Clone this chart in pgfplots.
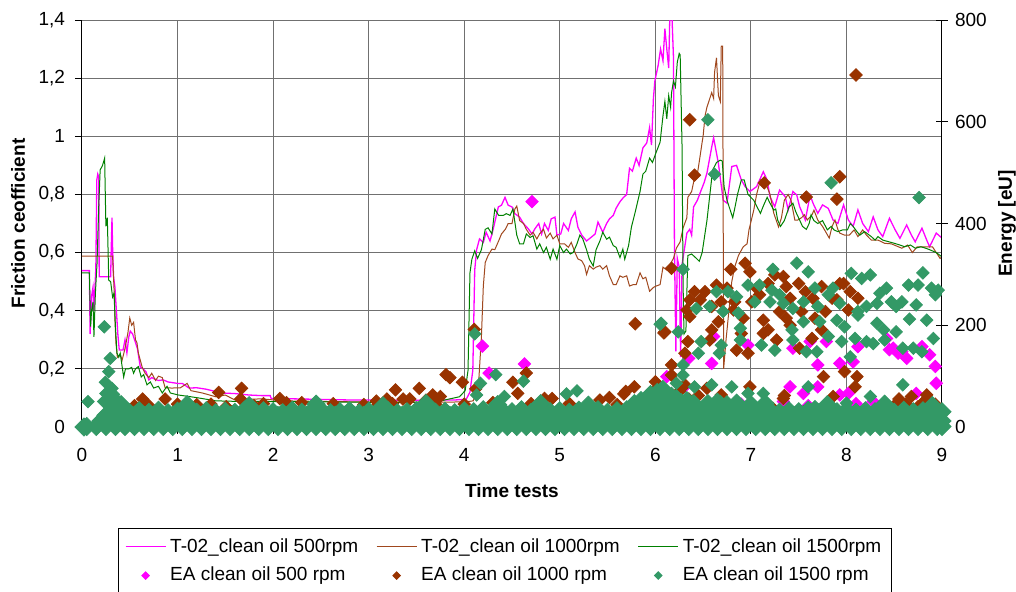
\documentclass[border=0pt]{standalone}
\usepackage{fontspec}
\setmainfont{Liberation Sans}
\usepackage{pgfplots}
\pgfplotsset{compat=1.18}
\definecolor{cmag}{HTML}{FF00FF}
\definecolor{cbrl}{HTML}{A0481E}
\definecolor{cbr}{HTML}{993300}
\definecolor{cgl}{HTML}{008000}
\definecolor{cgm}{HTML}{339966}
\definecolor{cgrid}{HTML}{707070}
\newcommand{\fs}{\fontsize{9.5}{11.4}\selectfont}
\begin{document}
\begin{tikzpicture}
\useasboundingbox (-41pt,-82pt) rectangle (467pt,213.5pt);
\pgfplotsset{
 base/.style={width=430pt,height=203.5pt,scale only axis,xmin=0,xmax=9,
  /pgf/number format/assume math mode=true,/pgf/number format/use comma,
  tick label style={font=\fs},
  label style={font=\bfseries\fs},
  tick style={black,line width=0.5pt},
  axis line style={-,black,line width=0.5pt}},
 linelegend/.style={legend image code/.code={\draw[##1] (0pt,0pt) -- (20pt,0pt);}},
 marklegend/.style={legend image code/.code={\draw[##1,mark size=1.3pt] plot coordinates {(10pt,0pt)};}},
}
\begin{axis}[base,at={(0,0)},anchor=south west,ymin=0,ymax=1.4,
 axis x line*=bottom,axis y line*=left,
 xtick={0,1,2,3,4,5,6,7,8,9},ytick={0,0.2,0.4,0.6,0.8,1,1.2,1.4},
 tick align=outside,major tick length=3.5pt,
 xticklabel style={yshift=-3.5pt},yticklabel style={xshift=-1.5pt},
 grid=major,major grid style={cgrid,line width=0.5pt},
 xlabel={Time tests},ylabel={Friction ceofficient},
 xlabel style={at={(axis description cs:0.5,-0.157)},anchor=center},
 ylabel style={at={(axis description cs:-0.0744,0.5)},anchor=center},
]
% 500 rpm
\addplot[cmag,line width=0.65pt] coordinates {
(0,0.538) (0.077,0.538) (0.085,0.32) (0.10,0.45) (0.115,0.48) (0.125,0.40) (0.145,0.55) (0.155,0.85) (0.165,0.87) (0.175,0.86) (0.18,0.517) (0.30,0.517) (0.305,0.60) (0.314,0.72) (0.32,0.62) (0.33,0.517) (0.345,0.48) (0.36,0.40) (0.375,0.32) (0.39,0.265) (0.43,0.265) (0.45,0.30) (0.47,0.255) (0.49,0.31) (0.505,0.33) (0.53,0.32) (0.56,0.29) (0.58,0.27) (0.61,0.207) (0.64,0.20) (0.67,0.19) (0.70,0.162) (0.73,0.17) (0.76,0.165) (0.80,0.16) (0.85,0.162) (0.90,0.155) (1.0,0.15) (1.05,0.15) (1.12,0.134) (1.2,0.135) (1.3,0.13) (1.40,0.122) (1.46,0.117) (1.6,0.115) (1.75,0.11) (1.88,0.108) (1.97,0.108) (1.98,0.098) (2.2,0.097) (2.5,0.095) (2.8,0.093) (3.0,0.093) (3.3,0.092) (3.6,0.092) (3.9,0.093) (4.02,0.095) (4.06,0.12) (4.09,0.195) (4.11,0.54) (4.13,0.61) (4.16,0.647) (4.20,0.635) (4.23,0.67) (4.27,0.64) (4.30,0.676) (4.357,0.757) (4.39,0.763) (4.427,0.79) (4.46,0.763) (4.50,0.757) (4.53,0.734) (4.58,0.722) (4.62,0.70) (4.67,0.682) (4.71,0.664) (4.74,0.682) (4.78,0.70) (4.81,0.664) (4.84,0.70) (4.88,0.676) (4.91,0.716) (4.95,0.722) (4.97,0.66) (5.01,0.664) (5.04,0.70) (5.09,0.676) (5.12,0.716) (5.16,0.74) (5.19,0.687) (5.23,0.66) (5.28,0.64) (5.33,0.653) (5.37,0.664) (5.40,0.705) (5.45,0.67) (5.49,0.70) (5.52,0.716) (5.56,0.728) (5.59,0.753) (5.63,0.775) (5.66,0.787) (5.70,0.80) (5.73,0.89) (5.76,0.88) (5.80,0.925) (5.83,0.90) (5.87,0.96) (5.91,0.977) (5.94,1.03) (5.96,0.97) (5.98,1.13) (5.995,1.19) (6.03,1.245) (6.055,1.30) (6.08,1.26) (6.10,1.37) (6.12,1.30) (6.14,1.235) (6.15,1.39) (6.17,1.45) (6.19,1.27) (6.20,0.62) (6.215,0.26) (6.23,0.58) (6.25,0.55) (6.265,0.24) (6.28,0.56) (6.33,0.667) (6.36,0.68) (6.38,0.66) (6.40,0.757) (6.44,0.78) (6.48,0.815) (6.51,0.84) (6.54,0.873) (6.59,0.963) (6.61,0.995) (6.66,0.907) (6.71,0.78) (6.75,0.77) (6.80,0.896) (6.85,0.90) (6.90,0.85) (6.94,0.827) (6.99,0.81) (7.06,0.827) (7.13,0.878) (7.17,0.85) (7.20,0.792) (7.25,0.758) (7.30,0.815) (7.36,0.792) (7.39,0.747) (7.44,0.81) (7.48,0.798) (7.51,0.758) (7.57,0.712) (7.62,0.798) (7.65,0.77) (7.70,0.735) (7.75,0.764) (7.81,0.752) (7.86,0.712) (7.91,0.70) (7.97,0.764) (8.02,0.712) (8.07,0.69) (8.12,0.747) (8.17,0.70) (8.23,0.672) (8.28,0.723) (8.33,0.678) (8.38,0.655) (8.45,0.718) (8.51,0.678) (8.56,0.649) (8.63,0.695) (8.68,0.66) (8.72,0.637) (8.79,0.684) (8.84,0.643) (8.87,0.62) (8.94,0.667) (9.0,0.65)};
% 1000 rpm
\addplot[cbrl,line width=0.5pt] coordinates {
(0,0.588) (0.32,0.588) (0.33,0.517) (0.34,0.437) (0.345,0.368) (0.355,0.29) (0.37,0.24) (0.40,0.25) (0.42,0.23) (0.45,0.27) (0.48,0.323) (0.50,0.375) (0.52,0.35) (0.54,0.36) (0.56,0.30) (0.575,0.29) (0.59,0.254) (0.63,0.206) (0.66,0.185) (0.70,0.17) (0.73,0.185) (0.77,0.16) (0.80,0.175) (0.84,0.17) (0.87,0.135) (0.94,0.134) (1.03,0.135) (1.10,0.15) (1.14,0.125) (1.26,0.117) (1.40,0.104) (1.50,0.11) (1.60,0.093) (1.88,0.097) (2.1,0.09) (2.5,0.088) (3.0,0.086) (3.5,0.085) (3.9,0.086) (4.05,0.088) (4.095,0.09) (4.15,0.148) (4.18,0.31) (4.20,0.485) (4.22,0.566) (4.25,0.59) (4.29,0.612) (4.32,0.61) (4.36,0.64) (4.39,0.664) (4.43,0.68) (4.46,0.70) (4.50,0.70) (4.53,0.75) (4.55,0.76) (4.58,0.71) (4.62,0.70) (4.65,0.68) (4.69,0.66) (4.72,0.67) (4.76,0.647) (4.79,0.665) (4.83,0.68) (4.86,0.65) (4.90,0.667) (4.93,0.647) (4.97,0.66) (5.0,0.63) (5.05,0.63) (5.09,0.618) (5.12,0.635) (5.16,0.60) (5.19,0.578) (5.23,0.572) (5.26,0.554) (5.28,0.525) (5.31,0.555) (5.35,0.543) (5.38,0.55) (5.42,0.555) (5.45,0.543) (5.49,0.555) (5.52,0.52) (5.56,0.49) (5.59,0.49) (5.63,0.52) (5.66,0.515) (5.70,0.52) (5.73,0.485) (5.77,0.49) (5.80,0.49) (5.84,0.53) (5.87,0.51) (5.90,0.515) (5.94,0.467) (5.98,0.48) (6.01,0.485) (6.05,0.49) (6.08,0.55) (6.12,0.54) (6.15,0.557) (6.19,0.58) (6.22,0.615) (6.26,0.637) (6.29,0.684) (6.33,0.72) (6.34,0.79) (6.38,0.81) (6.41,0.857) (6.44,0.87) (6.47,0.935) (6.49,0.98) (6.50,1.0) (6.52,1.07) (6.54,1.10) (6.56,1.12) (6.59,1.15) (6.61,1.13) (6.62,1.22) (6.64,1.27) (6.66,1.14) (6.68,1.12) (6.69,1.31) (6.705,1.31) (6.715,0.20) (6.74,0.30) (6.77,0.40) (6.80,0.50) (6.83,0.55) (6.87,0.59) (6.92,0.62) (6.96,0.63) (6.98,0.678) (7.03,0.746) (7.06,0.80) (7.10,0.85) (7.13,0.85) (7.17,0.826) (7.20,0.80) (7.24,0.735) (7.29,0.688) (7.32,0.72) (7.35,0.78) (7.39,0.80) (7.42,0.78) (7.46,0.712) (7.49,0.712) (7.53,0.72) (7.56,0.73) (7.59,0.712) (7.64,0.73) (7.66,0.746) (7.70,0.712) (7.75,0.69) (7.82,0.65) (7.85,0.69) (7.88,0.712) (7.91,0.68) (7.93,0.667) (7.98,0.66) (8.03,0.66) (8.08,0.678) (8.12,0.655) (8.17,0.678) (8.21,0.66) (8.26,0.643) (8.33,0.643) (8.40,0.632) (8.47,0.63) (8.58,0.615) (8.64,0.626) (8.69,0.60) (8.74,0.62) (8.85,0.62) (8.90,0.62) (8.94,0.60) (8.98,0.58) (9.0,0.585)};
% 1500 rpm
\addplot[cgl,line width=0.5pt] coordinates {
(0,0.53) (0.077,0.53) (0.09,0.345) (0.10,0.40) (0.115,0.43) (0.125,0.31) (0.14,0.46) (0.157,0.56) (0.175,0.757) (0.19,0.884) (0.215,0.90) (0.237,0.925) (0.25,0.69) (0.265,0.72) (0.28,0.505) (0.30,0.50) (0.32,0.447) (0.335,0.46) (0.35,0.345) (0.366,0.254) (0.385,0.24) (0.40,0.254) (0.42,0.208) (0.436,0.172) (0.455,0.20) (0.49,0.20) (0.52,0.205) (0.54,0.185) (0.56,0.20) (0.59,0.208) (0.62,0.172) (0.645,0.18) (0.68,0.145) (0.715,0.155) (0.75,0.134) (0.80,0.14) (0.84,0.117) (0.89,0.14) (0.925,0.117) (1.01,0.11) (1.12,0.105) (1.22,0.10) (1.40,0.09) (1.64,0.088) (1.88,0.088) (2.2,0.087) (2.6,0.086) (3.0,0.085) (3.4,0.085) (3.7,0.086) (3.95,0.104) (4.01,0.125) (4.04,0.195) (4.06,0.53) (4.08,0.577) (4.11,0.606) (4.14,0.58) (4.18,0.61) (4.22,0.68) (4.25,0.685) (4.29,0.664) (4.32,0.75) (4.36,0.728) (4.41,0.728) (4.44,0.734) (4.48,0.728) (4.51,0.75) (4.55,0.66) (4.58,0.63) (4.62,0.63) (4.65,0.664) (4.69,0.652) (4.72,0.658) (4.76,0.612) (4.79,0.63) (4.83,0.60) (4.86,0.618) (4.90,0.577) (4.93,0.612) (4.97,0.577) (5.0,0.624) (5.04,0.60) (5.07,0.612) (5.11,0.595) (5.14,0.60) (5.18,0.63) (5.21,0.66) (5.24,0.648) (5.28,0.61) (5.31,0.577) (5.35,0.554) (5.38,0.61) (5.42,0.64) (5.45,0.67) (5.49,0.646) (5.52,0.653) (5.56,0.624) (5.59,0.618) (5.63,0.583) (5.66,0.612) (5.68,0.577) (5.72,0.624) (5.75,0.688) (5.79,0.74) (5.84,0.81) (5.87,0.87) (5.90,0.88) (5.94,0.925) (5.97,0.91) (6.01,0.946) (6.05,0.98) (6.07,1.04) (6.08,1.07) (6.10,1.12) (6.12,1.06) (6.14,1.14) (6.16,1.10) (6.17,1.15) (6.19,1.19) (6.21,1.17) (6.23,1.255) (6.25,1.285) (6.26,1.28) (6.28,0.96) (6.29,0.5) (6.30,0.32) (6.32,0.33) (6.34,0.59) (6.38,0.595) (6.43,0.58) (6.46,0.57) (6.49,0.60) (6.54,0.71) (6.60,0.884) (6.64,0.91) (6.68,0.918) (6.70,0.915) (6.72,0.826) (6.75,0.78) (6.81,0.72) (6.83,0.75) (6.86,0.80) (6.90,0.85) (6.93,0.85) (6.97,0.80) (7.03,0.78) (7.06,0.76) (7.10,0.735) (7.13,0.76) (7.17,0.79) (7.20,0.77) (7.24,0.746) (7.26,0.75) (7.28,0.712) (7.31,0.69) (7.35,0.71) (7.40,0.757) (7.44,0.77) (7.47,0.74) (7.51,0.712) (7.54,0.69) (7.58,0.68) (7.61,0.70) (7.63,0.73) (7.66,0.71) (7.70,0.70) (7.75,0.71) (7.80,0.678) (7.84,0.69) (7.87,0.678) (7.91,0.672) (7.96,0.678) (8.01,0.678) (8.04,0.70) (8.07,0.69) (8.11,0.672) (8.14,0.66) (8.19,0.672) (8.26,0.655) (8.30,0.643) (8.33,0.655) (8.38,0.643) (8.50,0.632) (8.56,0.626) (8.61,0.62) (8.67,0.626) (8.72,0.615) (8.78,0.62) (8.83,0.615) (8.87,0.61) (8.94,0.60) (9.0,0.585)};
\end{axis}
\begin{axis}[base,at={(0,0)},anchor=south west,ymin=0,ymax=800,
 hide x axis,axis y line*=right,
 ytick={0,200,400,600,800},tick align=center,major tick length=6pt,
 ylabel={Energy [eU]},
 ylabel style={at={(axis description cs:1.0756,0.5)},anchor=center},
 legend columns=3,legend cell align=left,
 legend style={at={(axis description cs:0.492,-0.248)},anchor=north,draw=black,line width=0.5pt,font=\fs,
  /tikz/every even column/.append style={column sep=7pt},row sep=2pt,inner ysep=3pt},
 mark size=2.2pt,
]
\addlegendimage{cmag,line width=0.65pt,linelegend}
\addlegendentry{T-02\_clean oil 500rpm}
\addlegendimage{cbrl,line width=0.5pt,linelegend}
\addlegendentry{T-02\_clean oil 1000rpm}
\addlegendimage{cgl,line width=0.5pt,linelegend}
\addlegendentry{T-02\_clean oil 1500rpm}
% EA 500 rpm
\addplot[only marks,mark=square*,color=cmag,mark options={rotate=45},marklegend] coordinates {
(4.19,159) (4.26,106) (4.63,124) (4.71,443) (6.61,178) (6.97,161) (7.44,155) (7.62,168) (7.79,168) (8.12,158) (8.42,174) (8.49,155) (8.54,145) (8.63,135) (8.79,158) (8.87,142) (6.35,135) (6.59,125) (7.70,122) (7.93,125) (8.07,128) (8.93,119) (8.94,86) (6.12,99) (6.31,80) (6.22,60) (7.41,79) (7.55,66) (7.70,79) (7.93,63) (8.02,66) (8.73,66) (6.75,43) (7.13,43) (7.34,50) (8.28,50) (8.45,152) (8.58,148) (6.40,40) (6.90,45) (7.60,42) (8.10,46) (8.50,40) (8.85,48)};
\addlegendentry{EA clean oil 500 rpm}
% EA 1000 rpm
\addplot[only marks,mark=square*,color=cbr,mark options={rotate=45},marklegend] coordinates {
(0.635,55) (0.87,55) (1.43,68) (1.67,76) (1.51,40) (1.66,55) (2.07,56) (1.2,44) (0.7,42) (1.0,45) (1.9,46)
(3.08,51) (3.19,55) (3.28,73) (3.36,55) (3.43,55) (3.53,76) (3.60,53) (3.67,63) (3.75,60) (3.81,103) (3.85,97)
(3.98,88) (4.105,192) (4.12,75) (4.51,88) (4.56,66) (4.65,106) (4.81,45) (4.84,56) (4.92,56) (5.42,53) (5.52,58) (5.67,65) (5.69,70) (5.78,79) (5.79,203) (6.0,89) (6.09,185) (2.3,48) (2.63,46) (2.95,44) (2.14,48) (3.1,44)
(0.55,42) (1.35,45) (1.8,42) (3.25,46) (3.7,45) (4.0,45) (4.3,48) (4.7,46) (5.1,46) (5.6,44) (5.9,48)
(6.36,604) (6.41,495) (8.10,692) (7.93,492) (7.90,448) (7.58,452) (7.14,480) (6.17,312) (6.79,310) (6.94,322) (6.99,305)
(7.25,299) (7.34,296) (7.93,282)
(6.36,250) (6.41,266) (6.52,266) (6.64,279) (6.75,273) (6.83,246) (7.06,273) (7.18,282) (7.37,276) (7.50,282) (7.57,266) (7.74,276) (7.85,253) (7.97,282) (8.04,266) (8.12,253)
(6.33,230) (6.47,250) (6.59,237) (6.69,246) (6.82,230) (7.01,246) (7.09,260) (7.30,227) (7.41,253) (7.53,227) (7.65,253) (7.78,227) (7.90,250) (8.02,230)
(6.36,217) (6.66,207) (6.92,214) (7.13,210) (7.37,214) (7.67,214)
(6.10,187) (6.59,191) (6.90,184) (7.18,191) (7.41,200) (7.74,191)
(6.34,168) (6.57,171) (6.85,151) (6.97,145) (7.13,184) (7.27,171) (7.51,155) (7.64,174)
(6.31,145) (6.17,122) (6.17,102) (6.01,75) (6.31,83) (6.54,76) (6.69,63) (6.99,79) (7.34,56) (7.35,62) (7.76,99) (7.98,109) (8.11,99) (8.09,79) (7.86,60) (8.70,33) (8.84,63) (8.80,47) (8.49,40) (7.23,37) (7.55,30)
(6.05,60) (6.15,50) (6.25,70) (6.35,55) (6.45,62)
(8.55,55) (8.62,45) (8.68,60) (8.75,40) (8.82,52) (8.88,35) (8.93,45) (8.97,25) (9.0,12) (8.58,25) (8.72,20) (8.85,18)};
\addlegendentry{EA clean oil 1000 rpm}
% EA 1500 rpm: the overlapping markers near zero form a solid mass
\addplot[draw=none,fill=cgm,forget plot] coordinates {
(0.03,0) (0.03,8) (0.2,10) (0.24,26) (5.75,26) (5.9,34) (6.1,38) (6.3,34) (6.6,30) (7.0,27) (9.0,26) (9.0,0)} \closedcycle;
\addplot[only marks,mark=square*,color=cgm,mark options={rotate=45},mark size=3.2pt,forget plot] coordinates {
(0.02,0) (0.05,1) (0.15,1) (0.25,1) (0.35,1) (0.45,1) (0.55,1) (0.65,1) (0.75,1) (0.85,1) (0.95,1)
(1.05,1) (1.15,1) (1.25,1) (1.35,1) (1.45,1) (1.55,1) (1.65,1) (1.75,1) (1.85,1) (1.95,1)
(2.05,1) (2.15,1) (2.25,1) (2.35,1) (2.45,1) (2.55,1) (2.65,1) (2.75,1) (2.85,1) (2.95,1)
(3.05,1) (3.15,1) (3.25,1) (3.35,1) (3.45,1) (3.55,1) (3.65,1) (3.75,1) (3.85,1) (3.95,1)
(4.05,1) (4.15,1) (4.25,1) (4.35,1) (4.45,1) (4.55,1) (4.65,1) (4.75,1) (4.85,1) (4.95,1)
(5.05,1) (5.15,1) (5.25,1) (5.35,1) (5.45,1) (5.55,1) (5.65,1) (5.75,1) (5.85,1) (5.95,1)
(6.05,1) (6.15,1) (6.25,1) (6.35,1) (6.45,1) (6.55,1) (6.65,1) (6.75,1) (6.85,1) (6.95,1)
(7.05,1) (7.15,1) (7.25,1) (7.35,1) (7.45,1) (7.55,1) (7.65,1) (7.75,1) (7.85,1) (7.95,1)
(8.05,1) (8.15,1) (8.25,1) (8.35,1) (8.45,1) (8.55,1) (8.65,1) (8.75,1) (8.85,1) (8.95,1) (9.0,1)
(0.2,12) (0.3,12) (0.4,12) (0.5,12) (0.6,12) (0.7,12) (0.8,12) (0.9,12) (1.0,12)
(1.1,12) (1.2,12) (1.3,12) (1.4,12) (1.5,12) (1.6,12) (1.7,12) (1.8,12) (1.9,12) (2.0,12)
(2.1,12) (2.2,12) (2.3,12) (2.4,12) (2.5,12) (2.6,12) (2.7,12) (2.8,12) (2.9,12) (3.0,12)
(3.1,12) (3.2,12) (3.3,12) (3.4,12) (3.5,12) (3.6,12) (3.7,12) (3.8,12) (3.9,12) (4.0,12)
(4.1,12) (4.2,12) (4.3,12) (4.4,12) (4.5,12) (4.6,12) (4.7,12) (4.8,12) (4.9,12) (5.0,12)
(5.1,12) (5.2,12) (5.3,12) (5.4,12) (5.5,12) (5.6,12) (5.7,12) (5.8,12) (5.9,12) (6.0,12)
(6.1,12) (6.2,12) (6.3,12) (6.4,12) (6.5,12) (6.6,12) (6.7,12) (6.8,12) (6.9,12) (7.0,12)
(7.1,12) (7.2,12) (7.3,12) (7.4,12) (7.5,12) (7.6,12) (7.7,12) (7.8,12) (7.9,12) (8.0,12)
(8.1,12) (8.2,12) (8.3,12) (8.4,12) (8.5,12) (8.6,12) (8.7,12) (8.8,12) (8.9,12) (9.0,12)
(0.25,23) (0.35,23) (0.45,23) (0.55,23) (0.65,23) (0.75,23) (0.85,23) (0.95,23)
(1.05,23) (1.15,23) (1.25,23) (1.35,23) (1.45,23) (1.55,23) (1.65,23) (1.75,23) (1.85,23) (1.95,23)
(2.05,23) (2.15,23) (2.25,23) (2.35,23) (2.45,23) (2.55,23) (2.65,23) (2.75,23) (2.85,23) (2.95,23)
(3.05,23) (3.15,23) (3.25,23) (3.35,23) (3.45,23) (3.55,23) (3.65,23) (3.75,23) (3.85,23) (3.95,23)
(4.05,23) (4.15,23) (4.25,23) (4.35,23) (4.45,23) (4.55,23) (4.65,23) (4.75,23) (4.85,23) (4.95,23)
(5.05,23) (5.15,23) (5.25,23) (5.35,23) (5.45,23) (5.55,23) (5.65,23) (5.75,23) (5.85,23) (5.95,23)
(6.05,23) (6.15,23) (6.25,23) (6.35,23) (6.45,23) (6.55,23) (6.65,23) (6.75,23) (6.85,23) (6.95,23)
(7.05,23) (7.15,23) (7.25,23) (7.35,23) (7.45,23) (7.55,23) (7.65,23) (7.75,23) (7.85,23) (7.95,23)
(8.05,23) (8.15,23) (8.25,23) (8.35,23) (8.45,23) (8.55,23) (8.65,23) (8.75,23) (8.85,23) (8.95,23)
(0.3,30) (0.4,34) (0.5,28) (0.6,32) (0.7,29) (0.8,33) (0.9,28) (1.0,31) (1.1,34)
(1.2,29) (1.3,32) (1.4,28) (1.5,31) (1.6,29) (1.7,33) (1.8,28) (1.9,32) (2.0,30)
(2.1,28) (2.2,33) (2.3,29) (2.4,31) (2.5,34) (2.6,28) (2.7,30) (2.8,32) (2.9,28) (3.0,31)
(3.1,29) (3.2,33) (3.3,28) (3.4,30) (3.5,32) (3.6,34) (3.7,29) (3.8,31) (3.9,28) (4.0,32)
(4.1,30) (4.2,34) (4.3,29) (4.4,32) (4.5,30) (4.6,34) (4.7,29) (4.8,33) (4.9,30) (5.0,32)
(5.1,29) (5.2,33) (5.3,30) (5.4,34) (5.5,29) (5.6,32) (5.7,34) (5.8,36) (5.9,38) (6.0,40)
(6.1,38) (6.2,40) (6.3,36) (6.4,38) (6.5,34) (6.6,37) (6.7,33) (6.8,36) (6.9,32) (7.0,34)
(7.1,30) (7.2,33) (7.3,29) (7.4,32) (7.5,30) (7.6,33) (7.7,29) (7.8,32) (7.9,30) (8.0,33)
(8.1,29) (8.2,32) (8.3,30) (8.4,34) (8.5,29) (8.6,33) (8.7,30) (8.8,32) (8.9,29) (9.0,30)
(0.27,50) (0.32,54) (0.36,49) (0.30,64) (0.41,44) (0.34,42)
(5.78,46) (5.85,52) (5.92,48) (5.98,58) (6.05,52) (6.12,62) (6.17,50) (6.22,56) (6.27,48) (6.33,52) (6.40,46) (6.02,68) (6.08,74) (5.95,64)
(6.55,46) (6.65,49) (6.75,44) (6.85,47) (7.0,44) (7.15,46)
(1.1,44) (1.75,42) (2.45,45) (3.15,42) (3.6,46) (4.35,44) (4.8,46) (5.3,43) (7.8,44) (8.4,45) (8.9,42)};
% EA 1500 rpm: isolated points
\addplot[only marks,mark=square*,color=cgm,mark options={rotate=45},marklegend] coordinates {
(0.063,50) (0.233,197) (0.296,135) (0.28,109) (0.244,88) (0.314,76) (0.227,50) (0.25,66)
(4.11,183) (4.17,86) (4.13,63) (4.33,103) (4.42,60) (4.62,90) (5.07,65) (5.18,71) (6.06,204)
(6.29,310) (6.05,202) (6.24,187) (6.29,122) (6.29,102) (6.17,66) (6.22,86) (6.41,79) (6.59,83) (6.80,79) (6.97,66) (7.13,66) (6.68,50)
(6.64,266) (6.76,266) (6.85,256) (6.97,279) (7.09,279) (7.22,269) (7.30,260) (7.48,322) (7.60,305) (7.23,310) (7.67,273) (7.86,273) (8.05,302) (8.16,292) (8.25,299) (8.35,263) (8.42,273) (8.65,279) (8.75,279) (8.80,303) (8.89,273) (8.96,269) (8.93,260)
(6.43,233) (6.57,237) (6.71,227) (6.87,224) (7.04,246) (7.20,246) (7.34,243) (7.44,233) (7.55,246) (7.70,237) (7.81,260) (7.93,243) (8.12,227) (8.21,237) (8.32,243) (8.47,246) (8.52,237) (8.58,246) (8.73,240) (8.84,210) (8.66,212) (8.32,204) (8.12,220)
(6.89,194) (7.43,191) (7.55,207) (7.72,207) (7.90,210) (7.98,197) (8.39,191) (8.52,187)
(6.48,168) (6.69,161) (6.89,171) (7.11,161) (7.25,151) (7.44,171) (7.58,148) (7.69,148) (7.81,178) (7.95,168) (8.09,174) (8.21,168) (8.28,164) (8.40,171) (8.59,155) (8.70,155) (8.79,148) (8.91,174)
(6.45,145) (6.67,145) (8.04,138)
(7.60,79) (7.67,40) (8.25,60) (8.59,83) (8.68,30) (8.00,47)
(6.55,604) (6.62,497) (7.84,480) (8.76,451)};
\addlegendentry{EA clean oil 1500 rpm}
\end{axis}
\end{tikzpicture}
\end{document}
